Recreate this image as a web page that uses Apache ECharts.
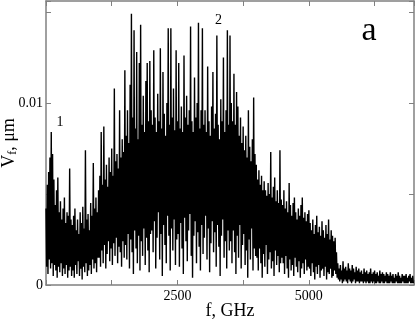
<!DOCTYPE html>
<html>
<head>
<meta charset="utf-8">
<script src="https://cdn.jsdelivr.net/npm/echarts@6/dist/echarts.min.js"></script>
<style>html,body{margin:0;padding:0;background:#fff}#c{width:415px;height:319px}</style>
</head>
<body>
<div id="c"></div>
<script>
// Spectrum. Units of values: 1e-4 um.
// hiVals at f = 0,25,50,...; loVals at f = 12.5,37.5,... (GHz)
var freqStep = 25;
var hiVals = [
42,55,62,70,84,72,58,44,52,59,40,46,36,42,48,34,40,38,64,36,
33,38,42,30,36,28,40,34,43,31,74,36,39,30,45,38,67,42,48,40,
52,60,84,55,87,58,66,54,70,62,75,60,108,68,72,64,96,70,80,73,
118,82,96,78,110,149,92,140,86,128,80,122,143,88,104,84,112,122,90,123,
96,88,129,92,84,105,90,130,86,117,94,82,100,141,88,141,92,108,85,129,
90,122,86,98,84,126,92,104,88,96,142,90,84,114,92,100,144,86,96,141,
88,96,84,120,90,82,98,117,86,94,137,88,80,102,90,125,84,96,140,88,
137,100,90,116,88,106,98,82,92,78,87,74,82,70,96,76,68,80,103,72,
66,58,63,55,60,52,57,52,49,56,50,73,48,54,59,46,52,45,74,47,
44,52,42,46,40,56,44,38,45,48,40,36,42,38,44,48,37,40,35,39,
41,34,30,36,28,33,38,29,32,27,35,30,26,33,28,36,25,30,27,24,
26,18,12,9,11,8,13,9,10,8,12,9,8,11,9,7,10,8,9,7,
8,6,9,7,8,6,7,9,6,7,8,6,7,5,8,6,7,6,5,7,
6,5,7,5,6,4,6,5,7,5,4,6,5,5,6,4,5,6,4,5
];
var loVals = [
10,6,14,9,12,5,11,8,4,10,7,12,5,9,6,11,4,8,10,5,
8,4,11,6,13,5,9,3,10,7,12,5,8,11,6,14,9,12,7,15,
15,10,19,12,22,9,17,24,13,20,11,23,16,26,12,21,18,10,24,15,
22,14,28,9,25,18,6,30,20,12,27,8,24,16,31,11,26,19,7,28,
30,18,35,9,26,40,14,28,5,33,22,12,38,27,8,31,19,36,11,25,
28,10,34,20,6,37,24,13,30,39,16,4,27,35,12,29,21,8,33,17,
26,38,14,31,7,23,35,18,29,10,33,21,5,27,36,15,24,9,30,19,
24,12,30,18,6,27,15,33,9,22,28,11,19,4,25,14,31,8,20,16,
15,8,20,12,4,17,10,22,6,14,18,9,13,5,19,11,16,7,12,15,
12,6,16,9,4,14,8,11,5,15,10,7,13,4,9,12,6,14,8,10,
9,5,12,7,3,10,6,11,4,8,9,5,10,3,7,6,9,4,5,8,
6,4,3,2,3,1,2,3,2,1,3,2,1,2,3,1,2,2,1,2,
2,1,2,1,2,1,1,2,1,2,1,1,2,1,1,2,1,1,2,1,
1,1,2,1,1,1,2,1,1,1,1,2,1,1,1,1,2,1,1,1
];
var xTickLabels = [2500, 5000];
var yTickLabels = [0, 0.01];
var xRange = [0, 7000];
var yRange = [0, 0.0156];
var annotations = [
  {text: '1', x: 60, y: 122.5, size: 14},
  {text: '2', x: 218.5, y: 20, size: 14},
  {text: 'a', x: 369, y: 31, size: 34}
];

var data = [];
for (var i = 0; i < hiVals.length; i++) {
  data.push([i * freqStep, hiVals[i] / 10000]);
  data.push([i * freqStep + freqStep / 2, loVals[i] / 10000]);
}

var FONT = "'Liberation Serif','Times New Roman',serif";
var axisGray = '#808080';
function near(list, v, eps) {
  for (var k = 0; k < list.length; k++) if (Math.abs(list[k] - v) < eps) return true;
  return false;
}

var chart = echarts.init(document.getElementById('c'), null, {renderer: 'canvas'});
var lineCfg = {show: true, onZero: false, lineStyle: {color: axisGray, width: 1.5}};
var tickCfg = {show: true, inside: true, length: 5, lineStyle: {color: axisGray, width: 1}};
chart.setOption({
  animation: false,
  backgroundColor: '#fff',
  grid: {left: 46, right: 1, top: 1, bottom: 34, containLabel: false, outerBoundsMode: 'none'},
  xAxis: [{
    type: 'value', position: 'bottom', min: xRange[0], max: xRange[1], interval: 1250,
    axisLine: lineCfg, axisTick: tickCfg, splitLine: {show: false},
    axisLabel: {margin: 4, color: '#000', fontFamily: FONT, fontSize: 14,
      formatter: function (v) { return near(xTickLabels, v, 1e-6) ? String(v) : ''; }},
    name: 'f, GHz', nameLocation: 'middle', nameGap: 17, nameMoveOverlap: false,
    nameTextStyle: {color: '#000', fontFamily: FONT, fontSize: 18}
  }, {
    type: 'value', position: 'top', min: xRange[0], max: xRange[1], interval: 1250,
    axisLine: lineCfg, axisTick: tickCfg, axisLabel: {show: false}, splitLine: {show: false}
  }],
  yAxis: [{
    type: 'value', position: 'left', min: yRange[0], max: yRange[1], interval: 0.005,
    axisLine: lineCfg, axisTick: tickCfg, splitLine: {show: false},
    axisLabel: {margin: 3, color: '#000', fontFamily: FONT, fontSize: 14,
      formatter: function (v) { return near(yTickLabels, v, 1e-9) ? String(+v.toFixed(4)) : ''; }},
    name: '{v|V}{s|f}{v|, \u03bcm}', nameLocation: 'middle', nameGap: 27, nameRotate: 90, nameMoveOverlap: false,
    nameTextStyle: {color: '#000', fontFamily: FONT, fontSize: 18,
      rich: {v: {fontFamily: FONT, fontSize: 18, color: '#000'},
             s: {fontFamily: FONT, fontSize: 12, color: '#000', padding: [8, 0, 0, 0]}}}
  }, {
    type: 'value', position: 'right', min: yRange[0], max: yRange[1], interval: 0.005,
    axisLine: lineCfg, axisTick: tickCfg, axisLabel: {show: false}, splitLine: {show: false}
  }],
  graphic: annotations.map(function (a) {
    return {type: 'text', x: a.x, y: a.y, z: 100,
      style: {text: a.text, fill: '#000', font: a.size + 'px ' + FONT, textAlign: 'center', textVerticalAlign: 'middle'}};
  }),
  series: [{
    type: 'line', data: data, xAxisIndex: 0, yAxisIndex: 0,
    showSymbol: false, symbol: 'none', sampling: null, smooth: false,
    lineStyle: {color: '#000', width: 1.4}, clip: true, z: 2
  }]
});
</script>
</body>
</html>
